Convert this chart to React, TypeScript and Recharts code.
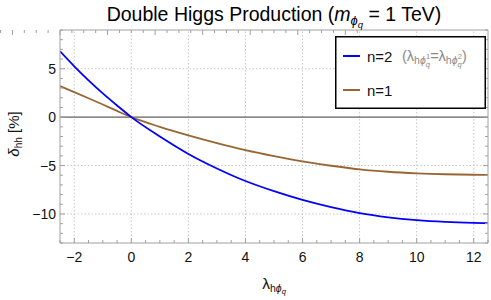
import React from 'react';
import { LineChart, Line, XAxis, YAxis, ReferenceLine } from 'recharts';

// ---- data ----
const lambdaValues = [-2.5, -2, -1.5, -1, -0.5, 0, 1, 2, 3, 4, 5, 6, 7, 8, 9, 10, 11, 12, 12.5];
const deltaN2 = [6.8, 5.25, 3.8, 2.45, 1.2, 0, -2.0, -3.8, -5.3, -6.6, -7.65, -8.55, -9.3, -9.92, -10.35, -10.64, -10.82, -10.92, -10.95];
const deltaN1 = [3.2, 2.58, 1.95, 1.3, 0.64, 0, -1.0, -1.88, -2.68, -3.4, -4.02, -4.57, -5.02, -5.39, -5.64, -5.8, -5.9, -5.95, -5.96];

const xMajorTicks = [-2, 0, 2, 4, 6, 8, 10, 12];
const xAllTicks = [-2.5, -2, -1.5, -1, -0.5, 0, 0.5, 1, 1.5, 2, 2.5, 3, 3.5, 4, 4.5, 5, 5.5, 6, 6.5, 7, 7.5, 8, 8.5, 9, 9.5, 10, 10.5, 11, 11.5, 12, 12.5];
const yMajorTicks = [-10, -5, 0, 5];
const yAllTicks = [-13, -12, -11, -10, -9, -8, -7, -6, -5, -4, -3, -2, -1, 0, 1, 2, 3, 4, 5, 6, 7, 8, 9];

const seriesNames = ['n=2', 'n=1'];
const seriesKeys = ['n2', 'n1'];

const data = lambdaValues.map((l, i) => ({ lambda: l, n2: deltaN2[i], n1: deltaN1[i] }));

const FONT = '"Liberation Sans", Arial, Helvetica, sans-serif';
const FRAME = '#a0a0a0';
const GRID = '#c8c8c8';
const BLUE = '#0000ff';
const BROWN = '#996633';
const seriesColors = [BLUE, BROWN];

const fmt = (v: number) => (v < 0 ? '\u2212' + Math.abs(v) : String(v));

const BottomTick = (props: any) => {
  const { x, y, payload } = props;
  const v = payload.value;
  const major = xMajorTicks.includes(v);
  const axisY = y;
  return (
    <g>
      <line x1={x} x2={x} y1={axisY} y2={axisY - (major ? 5 : 3)} stroke={FRAME} strokeWidth={1} />
      {major && (
        <text x={x} y={axisY + 19} textAnchor="middle" fontSize={14} fill="#111" fontFamily={FONT}>
          {fmt(v)}
        </text>
      )}
    </g>
  );
};

const TopTick = (props: any) => {
  const { x, y, payload } = props;
  const major = xMajorTicks.includes(payload.value);
  return <line x1={x} x2={x} y1={y} y2={y + (major ? 5 : 3)} stroke={FRAME} strokeWidth={1} />;
};

const LeftTick = (props: any) => {
  const { x, y, payload } = props;
  const v = payload.value;
  const major = yMajorTicks.includes(v);
  return (
    <g>
      <line x1={x} x2={x + (major ? 5 : 3)} y1={y} y2={y} stroke={FRAME} strokeWidth={1} />
      {major && (
        <text x={x - 4} y={y + 5} textAnchor="end" fontSize={14} fill="#111" fontFamily={FONT}>
          {fmt(v)}
        </text>
      )}
    </g>
  );
};

const RightTick = (props: any) => {
  const { x, y, payload } = props;
  const major = yMajorTicks.includes(payload.value);
  return <line x1={x} x2={x - (major ? 5 : 3)} y1={y} y2={y} stroke={FRAME} strokeWidth={1} />;
};

const TitleLabel = (props: any) => {
  const vb = props.viewBox || { x: 60, y: 30, width: 428 };
  const cx = vb.x + vb.width / 2;
  return (
    <text x={cx} y={21} textAnchor="middle" fontSize={19.5} fill="#000" fontFamily={FONT}>
      <tspan>Double Higgs Production (</tspan>
      <tspan fontStyle="italic">m</tspan>
      <tspan fontSize={13} dy={4} fontStyle="italic">ϕ</tspan>
      <tspan fontSize={9.5} dy={3} fontStyle="italic">q</tspan>
      <tspan dy={-7}> = 1 TeV)</tspan>
    </text>
  );
};

const XLabel = (props: any) => {
  const vb = props.viewBox || { x: 60, y: 243, width: 428 };
  const cx = vb.x + vb.width / 2;
  return (
    <text x={cx} y={289} textAnchor="middle" fontSize={15.5} fill="#111" fontFamily={FONT}>
      <tspan>λ</tspan>
      <tspan fontSize={10.5} dy={3}>h</tspan>
      <tspan fontSize={10.5} fontStyle="italic">ϕ</tspan>
      <tspan fontSize={7.5} dy={2} fontStyle="italic">q</tspan>
    </text>
  );
};

const YLabel = () => (
  <text transform="translate(19,134) rotate(-90)" x={0} y={0} textAnchor="middle" fontSize={15} fill="#111" fontFamily={FONT}>
    <tspan fontStyle="italic">δ</tspan>
    <tspan fontSize={10} dy={3}>hh</tspan>
    <tspan dy={-3}>{'  [%]'}</tspan>
  </text>
);

const LegendBox = () => (
  <svg width={151} height={73} style={{ position: 'absolute', left: 335, top: 36, display: 'block' }}>
    <rect x={0.75} y={0.75} width={149.5} height={71.5} fill="#fff" stroke="#000" strokeWidth={1.5} />
    {seriesNames.map((name, i) => {
      const cy = 20 + i * 34;
      return (
        <g key={name}>
          <line x1={8} x2={25} y1={cy} y2={cy} stroke={seriesColors[i]} strokeWidth={2} />
          <text x={32} y={cy + 5.5} fontSize={15} fill="#111" fontFamily={FONT}>
            {name}
          </text>
          {i === 0 && (
            <text x={67} y={cy + 5} fontSize={14.5} fill="#8a8a8a" fontFamily={FONT}>
              <tspan>(λ</tspan>
              <tspan fontSize={10.5} dy={3}>h</tspan>
              <tspan fontSize={10.5} fontStyle="italic">ϕ</tspan>
              <tspan fontSize={7.5} dy={2.5} fontStyle="italic">q</tspan>
              <tspan fontSize={7.5} dx={-4} dy={-8}>1</tspan>
              <tspan fontSize={14.5} dy={2.5}>=λ</tspan>
              <tspan fontSize={10.5} dy={3}>h</tspan>
              <tspan fontSize={10.5} fontStyle="italic">ϕ</tspan>
              <tspan fontSize={7.5} dy={2.5} fontStyle="italic">q</tspan>
              <tspan fontSize={7.5} dx={-4} dy={-8}>2</tspan>
              <tspan fontSize={14.5} dy={2.5}>)</tspan>
            </text>
          )}
        </g>
      );
    })}
  </svg>
);

export default function App() {
  return (
    <div style={{ position: 'absolute', left: 0, top: 0, width: 491, height: 300, background: '#fff' }}>
      <LineChart width={491} height={300} data={data} margin={{ top: 29, right: 2, bottom: 0, left: 0 }}>
        <XAxis
          dataKey="lambda"
          type="number"
          domain={[-2.5, 12.5]}
          ticks={xAllTicks}
          interval={0}
          allowDataOverflow
          height={57}
          tickLine={false}
          tickSize={0}
          tickMargin={0}
          axisLine={{ stroke: FRAME, strokeWidth: 1 }}
          tick={<BottomTick />}
          label={<XLabel />}
        />
        <XAxis
          xAxisId="top"
          orientation="top"
          type="number"
          domain={[-2.5, 12.5]}
          ticks={xAllTicks}
          interval={0}
          allowDataOverflow
          height={1}
          tickLine={false}
          tickSize={0}
          tickMargin={0}
          axisLine={{ stroke: FRAME, strokeWidth: 1 }}
          tick={<TopTick />}
          label={<TitleLabel />}
        />
        <YAxis
          type="number"
          domain={[-13, 9]}
          ticks={yAllTicks}
          interval={0}
          allowDataOverflow
          width={60}
          tickLine={false}
          tickSize={0}
          tickMargin={0}
          axisLine={{ stroke: FRAME, strokeWidth: 1 }}
          tick={<LeftTick />}
          label={<YLabel />}
        />
        <YAxis
          yAxisId="right"
          orientation="right"
          type="number"
          domain={[-13, 9]}
          ticks={yAllTicks}
          interval={0}
          allowDataOverflow
          width={1}
          tickLine={false}
          tickSize={0}
          tickMargin={0}
          axisLine={{ stroke: FRAME, strokeWidth: 1 }}
          tick={<RightTick />}
        />
        {xMajorTicks.map((v) => (
          <ReferenceLine key={'gx' + v} x={v} stroke={GRID} strokeDasharray="1.5 2" strokeWidth={1} ifOverflow="hidden" />
        ))}
        {yMajorTicks
          .filter((v) => v !== 0)
          .map((v) => (
            <ReferenceLine key={'gy' + v} y={v} stroke={GRID} strokeDasharray="1.5 2" strokeWidth={1} ifOverflow="hidden" />
          ))}
        <ReferenceLine y={0} stroke="#606060" strokeWidth={1.2} />
        <Line name={seriesNames[1]} dataKey={seriesKeys[1]} type="monotone" stroke={BROWN} strokeWidth={1.8} dot={false} isAnimationActive={false} />
        <Line name={seriesNames[0]} dataKey={seriesKeys[0]} type="monotone" stroke={BLUE} strokeWidth={1.8} dot={false} isAnimationActive={false} />
      </LineChart>
      <LegendBox />
    </div>
  );
}
